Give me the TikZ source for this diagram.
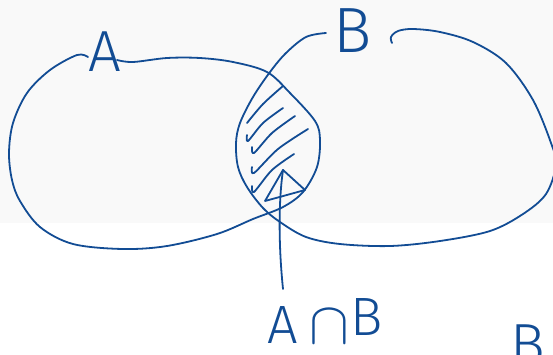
\documentclass[tikz,border=0pt]{standalone}
\usepackage{fontspec}
\usepackage{graphicx}
\newfontfamily\hand{Fira Sans Light}
\definecolor{inkblue}{RGB}{18,76,148}
\definecolor{bggray}{RGB}{249,249,249}
\begin{document}
\begin{tikzpicture}[x=1pt,y=-1pt,
  ink/.style={draw=inkblue, line width=1.8pt, line cap=round, line join=round},
  lbl/.style={text=inkblue, inner sep=0pt, anchor=base}]
\useasboundingbox (0,0) rectangle (553,354);
\fill[bggray] (0,0) rectangle (553,223);
% set A
\draw[ink] plot[smooth, tension=0.55] coordinates {
  (88,57) (77,55) (50,70) (27,93) (13,123) (9,153) (12,180) (20,201) (40,227)
  (73,244) (123,249) (167,246) (217,234) (253,219) (283,207) (303,192)
  (317,167) (320,140) (315,121) (290,93) (267,72) (233,62) (200,58)
  (167,58) (133,62) (117,60)};
% set B
\draw[ink] plot[smooth, tension=0.55] coordinates {
  (326,33) (306,37) (286,53) (270,72) (253,97) (240,123) (236,143)
  (238,167) (247,187) (263,208) (280,222) (306,237) (340,244) (390,246)
  (440,241) (490,231) (523,214) (546,194) (556,165) (551,143) (533,100)
  (506,63) (473,42) (440,32) (413,29) (398,31) (391,37) (392,43)};
% hatching of the intersection
\draw[ink] plot[smooth] coordinates {(247,123) (263,104) (283,86)};
\draw[ink] plot[smooth] coordinates {(247,135) (248,141) (263,123) (283,108)};
\draw[ink] plot[smooth] coordinates {(252,147) (254,153) (272,133) (295,116)};
\draw[ink] plot[smooth] coordinates {(252,167) (254,173) (278,149) (308,129)};
\draw[ink] plot[smooth] coordinates {(252,186) (254,192) (272,170) (294,154)};
% labels
\node[lbl, font={\hand\fontsize{58}{60}\selectfont}] (la) at (105,71) {A};
\node[lbl, font={\hand\fontsize{64}{66}\selectfont}] (lb) at (353,52) {B};
\node[lbl, font={\hand\fontsize{54}{56}\selectfont}] (lab) at (325,343)
  {A\hspace{12pt}\scalebox{2.4}{$\cap$}\hspace{1pt}\raisebox{8pt}{B}};
\node[lbl, font={\hand\fontsize{58}{60}\selectfont}] (lb2) at (528,364) {B};
% arrow
\coordinate (tail) at (283,289);
\coordinate (tip) at (283,170);
\draw[ink] (tail) .. controls (279,250) and (278,205) .. (tip);
\draw[ink] (tip) -- ++(-18,31) -- ++(40,-11) -- cycle;
\end{tikzpicture}
\end{document}
